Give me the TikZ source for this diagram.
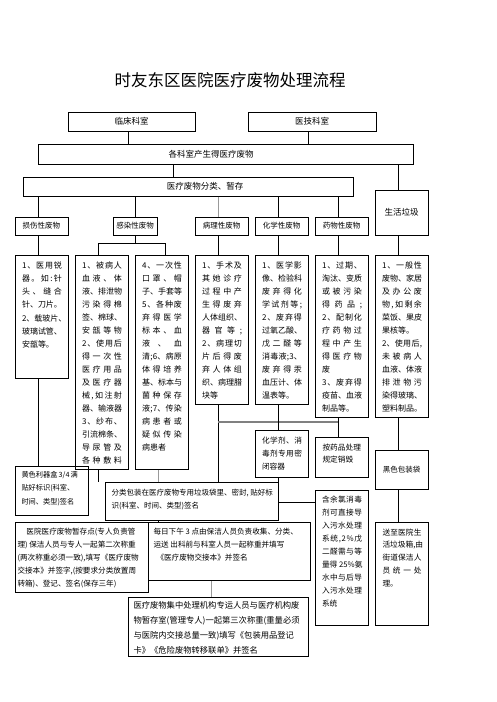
\documentclass[tikz,border=0pt]{standalone}
\usepackage{fontspec}
\newfontfamily\cjk{Noto Sans CJK SC}
\def\jlEnd{JLEND}
\def\jlA#1{\ifx\jlEnd#1\else#1\hfill\expandafter\jlA\fi}
\newcommand\lineJ[1]{\hbox to\linewidth{\jlA#1\jlEnd\unskip}}
\newcommand\lineN[1]{\hbox{#1}}
\newcommand\fs[2]{\fontsize{#1}{#2}\selectfont}
\tikzset{
  box/.style={draw, line width=1pt, inner sep=0pt, font=\cjk\fontsize{8.5}{10}\selectfont},
  cat/.style={font=\cjk\fontsize{7.5}{9}\selectfont},
  link/.style={line width=1pt},
  faint/.style={line width=1pt, black!40},
  graybar/.style={line width=2.6pt, black!50},
}
% centred box: [opts]{name}{x1}{y1}{x2}{y2}{text}
\newcommand\ctrbox[7][]{\node[box, #1, minimum width={(#5-#3)*1pt}, minimum height={(#6-#4)*1pt}] (#2) at ({(#3+#5)/2},{(#4+#6)/2}) {#7};}
% top-aligned box: {name}{x1}{y1}{x2}{y2}{padtop}{padx}{content}
\newcommand\txtbox[8]{\node[box, anchor=north west] (#1) at (#2,#3) {\parbox[t][\dimexpr#5pt-#3pt\relax][t]{\dimexpr#4pt-#2pt\relax}{\vspace*{#6pt}\hspace*{#7pt}\parbox[t]{\dimexpr#4pt-#2pt-#7pt-#7pt\relax}{#8}}};}
\begin{document}
\begin{tikzpicture}[x=1pt,y=-1pt]
\useasboundingbox (0,0) rectangle (496,702);
\node[font=\cjk\fontsize{16.5}{18}\selectfont] (title) at (230,80) {时友东区医院医疗废物处理流程};

\ctrbox{linchuang}{68}{112}{195}{131}{临床科室}
\ctrbox{yiji}{248}{112}{376}{131}{医技科室}
\ctrbox{gekeshi}{38}{144}{413}{164}{各科室产生得医疗废物\hspace*{29pt}}
\ctrbox{fenlei}{23}{177}{353}{196}{\hspace*{34pt}医疗废物分类、暂存}
\ctrbox[cat]{sunshang}{15}{217}{68}{235}{损伤性废物}
\ctrbox[cat]{ganran}{113}{217}{157}{235}{感染性废物}
\ctrbox[cat]{bingli}{195}{217}{248}{235}{病理性废物}
\ctrbox[cat]{huaxue}{255}{217}{308}{235}{化学性废物}
\ctrbox[cat]{yaowu}{315}{217}{368}{235}{药物性废物}
\ctrbox{shenghuo}{375}{190}{428}{235}{生活垃圾}

\txtbox{sunshangC}{15}{255}{68}{378}{6}{6.5}{\fs{8}{13.2}%
\lineJ{1、医用锐}\lineJ{器。如:针}\lineJ{头、缝合}\lineJ{针、刀片。}\lineJ{2、载玻片、}\lineJ{玻璃试管、}\lineN{安瓿等。}}
\txtbox{ganranA}{75}{255}{128}{469}{6}{6.5}{\fs{8}{13}%
\lineJ{1、被病人}\lineJ{血液、体}\lineJ{液、排泄物}\lineJ{污染得棉}\lineJ{签、棉球、}\lineJ{安瓿等物}\lineJ{2、使用后}\lineJ{得一次性}\lineJ{医疗用品}\lineJ{及医疗器}\lineJ{械,如注射}\lineJ{器、输液器}\lineJ{3、纱布、}\lineJ{引流棉条、}\lineJ{导尿管及}\lineJ{各种敷料}}
\txtbox{ganranB}{135}{255}{188}{469}{6}{6.5}{\fs{8}{13}%
\lineJ{4、一次性}\lineJ{口罩、帽}\lineJ{子、手套等}\lineJ{5、各种废}\lineJ{弃得医学}\lineJ{标本、血}\lineJ{液、血}\lineJ{清;6、病原}\lineJ{体得培养}\lineJ{基、标本与}\lineJ{菌种保存}\lineJ{液;7、传染}\lineJ{病患者或}\lineJ{疑似传染}\lineN{病患者}}
\txtbox{bingliC}{195}{255}{248}{404}{6}{6.5}{\fs{8}{13}%
\lineJ{1、手术及}\lineJ{其她诊疗}\lineJ{过程中产}\lineJ{生得废弃}\lineJ{人体组织、}\lineJ{器官等;}\lineJ{2、病理切}\lineJ{片后得废}\lineJ{弃人体组}\lineJ{织、病理腊}\lineN{块等}}
\txtbox{huaxueC}{255}{255}{308}{404}{6}{6.5}{\fs{8}{13}%
\lineJ{1、医学影}\lineJ{像、检验科}\lineJ{废弃得化}\lineJ{学试剂等;}\lineJ{2、废弃得}\lineJ{过氧乙酸、}\lineJ{戊二醛等}\lineJ{消毒液;3、}\lineJ{废弃得汞}\lineJ{血压计、体}\lineN{温表等。}}
\txtbox{yaowuC}{315}{255}{368}{417}{6}{6.5}{\fs{8}{13}%
\lineJ{1、过期、}\lineJ{淘汰、变质}\lineJ{或被污染}\lineJ{得药品;}\lineJ{2、配制化}\lineJ{疗药物过}\lineJ{程中产生}\lineJ{得医疗物}\lineN{废}\lineJ{3、废弃得}\lineJ{疫苗、血液}\lineN{制品等。}}
\txtbox{shenghuoC}{375}{255}{428}{417}{6}{6.5}{\fs{8}{13}%
\lineJ{1、一般性}\lineJ{废物、家居}\lineJ{及办公废}\lineJ{物,如剩余}\lineJ{菜饭、果皮}\lineN{果核等。}\lineJ{2、使用后,}\lineJ{未被病人}\lineJ{血液、体液}\lineJ{排泄物污}\lineJ{染得玻璃、}\lineJ{塑料制品。}}

\txtbox{huaxueji}{255}{430}{308}{477}{6}{6.5}{\fs{7.7}{13.3}%
\lineJ{化学剂、消}\lineJ{毒剂专用密}\lineN{闭容器}}
\txtbox{anyaopin}{315}{437}{368}{477}{6}{7}{\fs{7.7}{12.7}%
\lineN{按药品处理}\lineN{规定销毁}}
\ctrbox[font=\cjk\fontsize{7.5}{9}\selectfont]{heise}{375}{450}{428}{489}{黑色包装袋}
\txtbox{huangse}{15}{466}{88}{515}{5}{6}{\fs{7.2}{13.3}%
\lineN{黄色利器盒\,3/4\,满}\lineN{贴好标识(科室、}\lineN{时间、类型)签名}}
\txtbox{fenleibz}{105}{482}{278}{520}{7}{6}{\fs{7.5}{12.5}%
\lineN{分类包装在医疗废物专用垃圾袋里、密封, 贴好标}\lineN{识(科室、时间、类型)签名}}
\txtbox{hanyulv}{315}{490}{368}{625}{5}{6.5}{\fs{7.7}{13}%
\lineJ{含余氯消毒}\lineJ{剂可直接导}\lineJ{入污水处理}\lineJ{系统,2\%戊}\lineJ{二醛需与等}\lineN{量得 25\%氨}\lineJ{水中与后导}\lineJ{入污水处理}\lineN{系统}}
\txtbox{zancun}{15}{522}{148}{592}{6}{2}{\fs{7.6}{12.9}%
\lineN{\hspace*{9pt}医院医疗废物暂存点(专人负责管}\lineN{理) 保洁人员与专人一起第二次称重}\lineN{(两次称重必须一致),填写《医疗废物}\lineN{交接本》并签字,(按要求分类放置周}\lineN{转箱)、登记、签名(保存三年)}}
\txtbox{meiri}{148}{522}{310}{580}{6}{5}{\fs{7.6}{13}%
\lineN{每日下午 3 点由保洁人员负责收集、分类、}\lineN{运送 出科前与科室人员一起称重并填写}\lineN{\hspace*{3pt}《医疗废物交接本》并签名}}
\txtbox{jizhong}{128}{597}{308}{656}{4}{5}{\fs{8.3}{15}%
\lineN{医疗废物集中处理机构专运人员与医疗机构废}\lineN{物暂存室(管理专人)一起第三次称重(重量必须}\lineN{与医院内交接总量一致)填写《包装用品登记}\lineN{卡》《危险废物转移联单》并签名}}
\txtbox{songzhi}{375}{522}{428}{625}{6}{7}{\fs{7.7}{12.8}%
\lineJ{送至医院生}\lineN{活垃圾箱,由}\lineJ{街道保洁人}\lineJ{员统一处}\lineN{理。}}

% junction points
\coordinate (gL) at (98,243);
\coordinate (gM) at (135,243);
\coordinate (gR) at (165,243);
\coordinate (barL) at (218,422);
\coordinate (barR) at (338,422);
\coordinate (hxTurn) at (278,502);

% connectors
\draw[link] (128,0 |- linchuang.south) -- (128,0 |- gekeshi.north);
\draw[link] (308,0 |- yiji.south) -- (308,0 |- gekeshi.north);
\draw[link] (173,0 |- gekeshi.south) -- (173,0 |- fenlei.north);
\draw[link] (398,0 |- gekeshi.south) -- (398,0 |- shenghuo.north);
\draw[link] (38,0 |- fenlei.south) -- (38,0 |- sunshang.north);
\draw[link] (135,0 |- fenlei.south) -- (135,0 |- ganran.north);
\draw[faint] (218,0 |- fenlei.south) -- (218,0 |- bingli.north);
\draw[link] (278,0 |- fenlei.south) -- (278,0 |- huaxue.north);
\draw[link] (338,0 |- fenlei.south) -- (338,0 |- yaowu.north);
\draw[link] (38,0 |- sunshang.south) -- (38,0 |- sunshangC.north);
\draw[link] (135,0 |- ganran.south) -- (gM);
\draw[link] (98,0 |- ganranA.north) -- (gL) -- (gR) -- (165,0 |- ganranB.north);
\draw[link] (218,0 |- bingli.south) -- (218,0 |- bingliC.north);
\draw[link] (278,0 |- huaxue.south) -- (278,0 |- huaxueC.north);
\draw[link] (338,0 |- yaowu.south) -- (338,0 |- yaowuC.north);
\draw[link] (398,0 |- shenghuo.south) -- (398,0 |- shenghuoC.north);

\draw[link] (38,0 |- sunshangC.south) -- (38,0 |- huangse.north);
\draw[link] (98,0 |- ganranA.south) -- (98,0 |- fenleibz.north);
\draw[faint] (158,0 |- ganranB.south) -- (158,0 |- fenleibz.north);
\draw[link] (218,0 |- bingliC.south) -- (218,0 |- fenleibz.north);
\draw[graybar] (barL) -- (barR);
\draw[link] (278,0 |- huaxueC.south) -- (278,0 |- huaxueji.north);
\draw[link] (338,0 |- yaowuC.south) -- (338,0 |- anyaopin.north);
\draw[link] (398,0 |- shenghuoC.south) -- (398,0 |- heise.north);
\draw[link] (278,0 |- huaxueji.south) -- (hxTurn) -- (hanyulv.west |- hxTurn);
\draw[link] (398,0 |- heise.south) -- (398,0 |- songzhi.north);
\draw[link] (158,0 |- fenleibz.south) -- (158,0 |- meiri.north);
\draw[faint] (211,0 |- meiri.south) -- (211,0 |- jizhong.north);
\end{tikzpicture}
\end{document}
